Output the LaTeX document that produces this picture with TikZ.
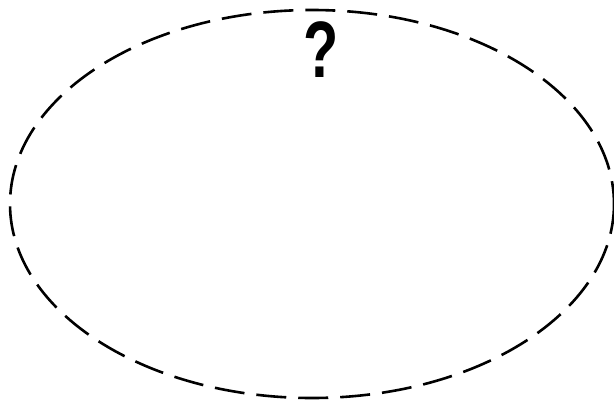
\documentclass[tikz,border=0pt]{standalone}
\usepackage{fontspec}
\setmainfont{Liberation Sans}
\begin{document}
\begin{tikzpicture}[x=1pt,y=-1pt,
  outline/.style={draw=black,line width=2.6pt,dash pattern=on 30pt off 12pt},
  qmark/.style={font=\bfseries\fontsize{80}{80}\selectfont,inner sep=0pt,xscale=0.72}]
\useasboundingbox (0,0) rectangle (614,402);
\draw[outline] (312,204) ellipse [x radius=302, y radius=194];
\node[qmark] (q) at (321,50) {?};
\end{tikzpicture}
\end{document}
